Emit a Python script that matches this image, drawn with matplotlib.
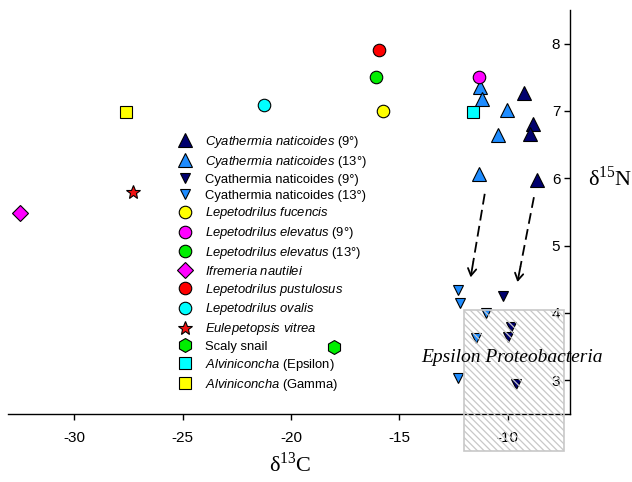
import matplotlib
matplotlib.use("Agg")
import matplotlib.pyplot as plt
from matplotlib.lines import Line2D
from matplotlib.patches import Rectangle

plt.rcParams["font.family"] = ["Liberation Sans", "DejaVu Sans"]
plt.rcParams["mathtext.fontset"] = "custom"
plt.rcParams["mathtext.it"] = "Liberation Sans:italic"
plt.rcParams["mathtext.rm"] = "Liberation Serif"
plt.rcParams["mathtext.bf"] = "Liberation Sans:bold"
plt.rcParams["hatch.linewidth"] = 0.9

# ---- isotope data (delta13C, delta15N) ----
cyath9_up_x = [-9.23, -8.83, -8.97, -8.63]
cyath9_up_y = [7.27, 6.80, 6.66, 5.97]
cyath13_up_x = [-11.28, -11.20, -10.03, -10.46, -11.31]
cyath13_up_y = [7.35, 7.18, 7.02, 6.65, 6.06]
cyath9_dn_x = [-10.23, -9.85, -9.97, -9.63]
cyath9_dn_y = [4.25, 3.79, 3.64, 2.94]
cyath13_dn_x = [-12.28, -12.20, -11.02, -11.46, -12.29]
cyath13_dn_y = [4.34, 4.15, 4.00, 3.63, 3.04]
fucencis_x, fucencis_y = [-15.75], [7.00]
elevatus9_x, elevatus9_y = [-11.32], [7.50]
elevatus13_x, elevatus13_y = [-16.08], [7.51]
ifremeria_x, ifremeria_y = [-32.50], [5.49]
pustulosus_x, pustulosus_y = [-15.94], [7.90]
ovalis_x, ovalis_y = [-21.25], [7.09]
eulepetopsis_x, eulepetopsis_y = [-27.29], [5.79]
scaly_x, scaly_y = [-18.00], [3.49]
alvi_eps_x, alvi_eps_y = [-11.62], [6.99]
alvi_gam_x, alvi_gam_y = [-27.61], [6.98]

# shift arrows (start -> end)
arrow_start_x = [-11.06, -8.79]
arrow_start_y = [5.77, 5.72]
arrow_end_x = [-11.71, -9.55]
arrow_end_y = [4.53, 4.46]

# Epsilon Proteobacteria range
eps_x = [-12.02, -7.40]
eps_y = [1.95, 4.05]

x_ticks = [-30, -25, -20, -15, -10]
y_ticks = [3, 4, 5, 6, 7, 8]

navy = "#00006E"
lblue = "#1E8CFF"

series = [
    (cyath9_up_x, cyath9_up_y, "^", navy, 9.5, r"$\mathit{Cyathermia\ naticoides}$ (9°)"),
    (cyath13_up_x, cyath13_up_y, "^", lblue, 9.5, r"$\mathit{Cyathermia\ naticoides}$ (13°)"),
    (cyath9_dn_x, cyath9_dn_y, "v", navy, 7.5, "Cyathermia naticoides (9°)"),
    (cyath13_dn_x, cyath13_dn_y, "v", lblue, 7.5, "Cyathermia naticoides (13°)"),
    (fucencis_x, fucencis_y, "o", "#FFFF00", 9, r"$\mathit{Lepetodrilus\ fucencis}$"),
    (elevatus9_x, elevatus9_y, "o", "#FF00FF", 9, r"$\mathit{Lepetodrilus\ elevatus}$ (9°)"),
    (elevatus13_x, elevatus13_y, "o", "#00EE00", 9, r"$\mathit{Lepetodrilus\ elevatus}$ (13°)"),
    (ifremeria_x, ifremeria_y, "D", "#FF00FF", 8.3, r"$\mathit{Ifremeria\ nautilei}$"),
    (pustulosus_x, pustulosus_y, "o", "#FF0000", 9, r"$\mathit{Lepetodrilus\ pustulosus}$"),
    (ovalis_x, ovalis_y, "o", "#00FFFF", 9, r"$\mathit{Lepetodrilus\ ovalis}$"),
    (eulepetopsis_x, eulepetopsis_y, "*", "#EE1111", 10.5, r"$\mathit{Eulepetopsis\ vitrea}$"),
    (scaly_x, scaly_y, "h", "#00EE00", 10, "Scaly snail"),
    (alvi_eps_x, alvi_eps_y, "s", "#00FFFF", 9, r"$\mathit{Alviniconcha}$ (Epsilon)"),
    (alvi_gam_x, alvi_gam_y, "s", "#FFFF00", 9, r"$\mathit{Alviniconcha}$ (Gamma)"),
]

fig = plt.figure(figsize=(6.32, 4.82), dpi=100)
ax = fig.add_axes([8 / 632, 68 / 482, 562 / 632, 404 / 482])

handles = []
for xs, ys, mk, col, ms, lab in series:
    ax.plot(xs, ys, linestyle="none", marker=mk, markersize=ms,
            markerfacecolor=col, markeredgecolor="black", markeredgewidth=0.8,
            zorder=3, clip_on=False)
    handles.append(Line2D([], [], linestyle="none", marker=mk, markersize=ms,
                          markerfacecolor=col, markeredgecolor="black",
                          markeredgewidth=0.8, label=lab))

# dashed shift arrows
for sx, sy, ex, ey in zip(arrow_start_x, arrow_start_y, arrow_end_x, arrow_end_y):
    fx = sx + 0.82 * (ex - sx)
    fy = sy + 0.82 * (ey - sy)
    ax.plot([sx, fx], [sy, fy], color="black", lw=1.3, linestyle=(0, (6, 3)),
            zorder=4)
    ax.annotate("", xy=(ex, ey), xytext=(fx, fy),
                arrowprops=dict(arrowstyle="->,head_length=0.5,head_width=0.3",
                                color="black", lw=1.3, shrinkA=0, shrinkB=0),
                zorder=4)

# hatched bacteria region
rect = Rectangle((eps_x[0], eps_y[0]), eps_x[1] - eps_x[0], eps_y[1] - eps_y[0],
                 facecolor="none", edgecolor="#C8C8C8", hatch="\\\\\\\\\\",
                 lw=1.2, zorder=5, clip_on=False)
ax.add_patch(rect)
ax.text((eps_x[0] + eps_x[1]) / 2 - 0.1, 3.34, "Epsilon Proteobacteria",
        family="Liberation Serif", style="italic", fontsize=14,
        ha="center", va="center", zorder=6, clip_on=False)

ax.set_xlim(-33.06, -7.125)
ax.set_ylim(2.5, 8.5)
ax.set_xticks(x_ticks)
ax.set_yticks(y_ticks)
ax.set_xticklabels([str(v) for v in x_ticks])
ax.set_yticklabels([str(v) for v in y_ticks])

for s in ["top", "right"]:
    ax.spines[s].set_visible(False)
ax.spines["left"].set_position(("axes", 1.0))
for s in ["left", "bottom"]:
    ax.spines[s].set_linewidth(1.0)
ax.tick_params(axis="both", direction="out", length=4, width=1.0,
               labelsize=11, pad=3)
ax.tick_params(axis="x", pad=8)
ax.patch.set_visible(False)

ax.set_xlabel(r"δ$^{\mathrm{13}}$C", fontsize=16, va="center",
              family="Liberation Serif")
ax.xaxis.set_label_coords(0.502, -0.125)
ax.set_ylabel(r"δ$^{\mathrm{15}}$N", fontsize=16, rotation=0,
              ha="center", va="center", family="Liberation Serif")
ax.yaxis.set_label_coords(1.071, 0.584)

leg = ax.legend(handles=handles, loc="upper left",
                bbox_to_anchor=(178 / 632, 1 - 134 / 482),
                bbox_transform=fig.transFigure, frameon=False,
                fontsize=9.4, handlelength=1.0, handletextpad=1.1,
                labelspacing=0.29, borderpad=0, borderaxespad=0)

fig.savefig("out.png", dpi=100)
